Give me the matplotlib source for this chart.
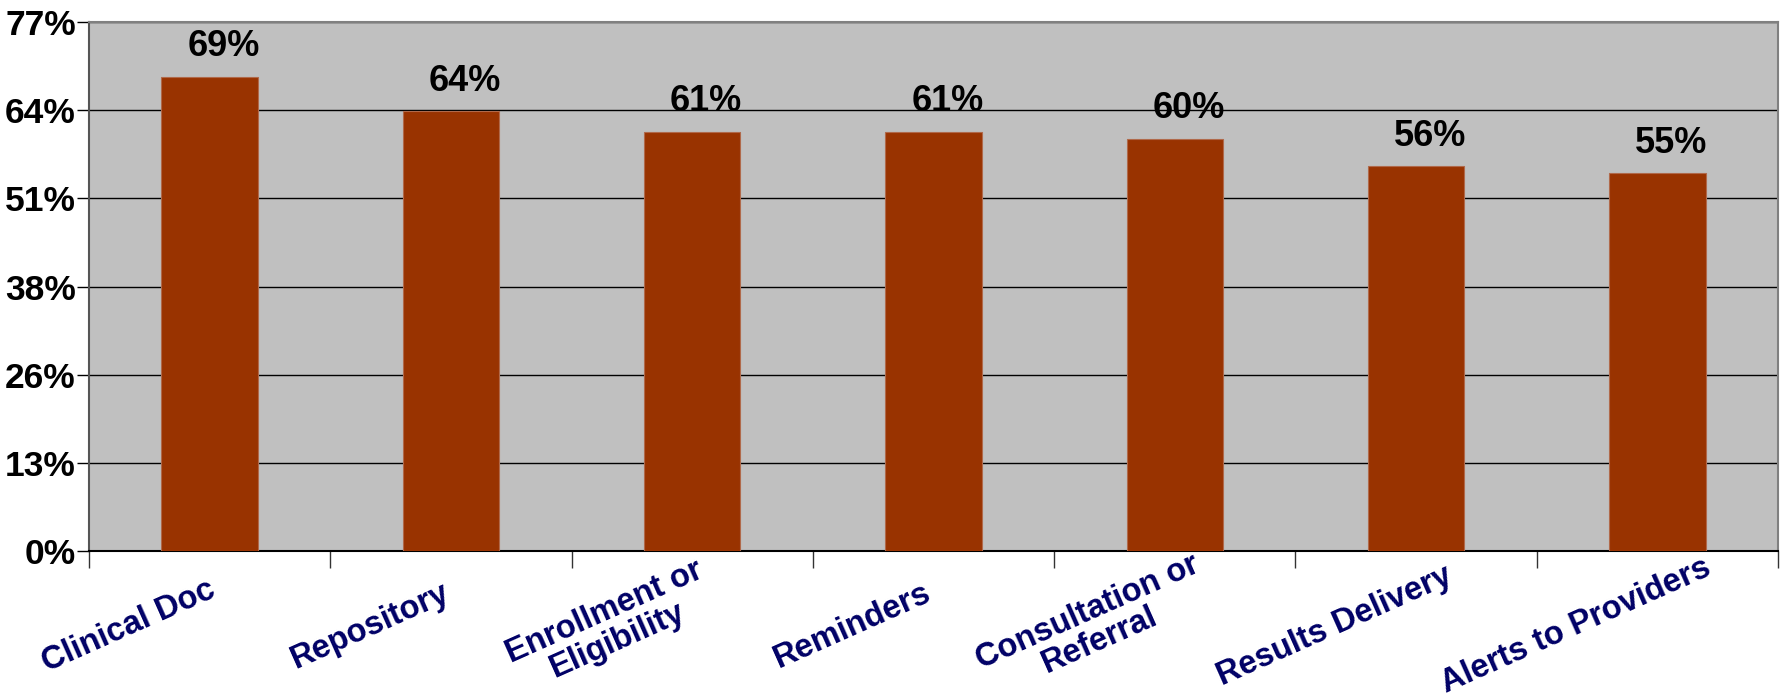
import matplotlib.pyplot as plt
import matplotlib.transforms as mtransforms
import numpy as np

categories = ["Clinical Doc", "Repository", "Enrollment or\nEligibility", "Reminders",
              "Consultation or\nReferral", "Results Delivery", "Alerts to Providers"]
values = [69, 64, 61, 61, 60, 56, 55]
ytick_labels = ["0%", "13%", "26%", "38%", "51%", "64%", "77%"]
ymax = 77

plt.rcParams['font.family'] = ['Liberation Sans', 'DejaVu Sans']

fig = plt.figure(figsize=(17.81, 6.98), dpi=100)
ax = fig.add_axes([89 / 1781, 147 / 698, 1689 / 1781, 529 / 698])
ax.set_facecolor("#C0C0C0")

x = np.arange(len(categories))
bars = ax.bar(x, values, width=0.4, color="#993300", edgecolor="#B0694A", linewidth=0.8, zorder=3)

for rect, v in zip(bars, values):
    ax.annotate(f"{v}%", (rect.get_x() + rect.get_width() / 2, v), xytext=(10, 9),
                textcoords="offset points", ha="center", va="bottom",
                fontsize=26, fontweight="bold", color="black")

ax.set_xlim(-0.5, len(categories) - 0.5)
ax.set_ylim(0, ymax)
yt = np.linspace(0, ymax, 7)
ax.set_yticks(yt)
ax.set_yticklabels(ytick_labels, fontsize=25.5, fontweight="bold",
                   family=['Liberation Sans Narrow', 'Liberation Sans'])
ax.yaxis.grid(True, color="black", linewidth=1.0, zorder=1)
ax.set_axisbelow(True)
ax.tick_params(axis="y", direction="out", length=9, width=1, pad=0.5)

# category boundaries as tick marks, labels as minor ticks
ax.set_xticks(np.arange(len(categories) + 1) - 0.5)
ax.set_xticklabels([])
ax.tick_params(axis="x", which="major", direction="out", length=12, width=1, color="#333333")
ax.set_xticks(x, minor=True)
ax.set_xticklabels(categories, minor=True, rotation=24, ha="center", va="center",
                   fontsize=23.5, fontweight="bold",
                   color="#000066", multialignment="center", linespacing=1.0)
ax.tick_params(axis="x", which="minor", length=0, pad=54)
shift = mtransforms.ScaledTranslation(-81 / 100, 0, fig.dpi_scale_trans)
for lab in ax.xaxis.get_minorticklabels():
    lab.set_transform(lab.get_transform() + shift)

ax.spines["top"].set_color("#808080")
ax.spines["right"].set_color("#808080")
ax.spines["left"].set_color("#555555")
ax.spines["bottom"].set_color("black")
for s in ax.spines.values():
    s.set_linewidth(1.5)

fig.savefig("out.png", dpi=100)
